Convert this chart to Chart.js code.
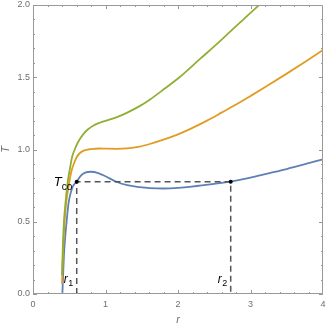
<!DOCTYPE html>
<html>
<head>
<meta charset="utf-8">
<script src="https://cdn.jsdelivr.net/npm/chart.js@4"></script>
<style>
html,body{margin:0;padding:0;background:#fff;}
#wrap{width:327px;height:327px;}
</style>
</head>
<body>
<div id="wrap"><canvas id="c" width="327" height="327"></canvas></div>
<script>
// ---- data ----
const blueR  = [0.405,0.415,0.428,0.445,0.465,0.49,0.52,0.55,0.60,0.667,0.72,0.80,0.90,1.00,1.15,1.30,1.47,1.61,1.80,2.00,2.16,2.30,2.50,2.72,2.85,3.00,3.22,3.50,3.75,4.00];
const blueT  = [0.00,0.13,0.28,0.40,0.51,0.628,0.70,0.745,0.777,0.823,0.840,0.846,0.837,0.815,0.777,0.753,0.740,0.733,0.730,0.734,0.742,0.750,0.762,0.777,0.790,0.806,0.832,0.865,0.898,0.932];

const orangeR = [0.400,0.415,0.437,0.46,0.49,0.53,0.566,0.60,0.644,0.70,0.76,0.85,0.92,1.00,1.15,1.30,1.47,1.61,1.80,2.00,2.20,2.40,2.60,2.85,3.00,3.22,3.50,3.75,4.00];
const orangeT = [0.07,0.30,0.51,0.64,0.743,0.85,0.905,0.945,0.974,0.992,1.000,1.005,1.007,1.006,1.005,1.008,1.020,1.038,1.068,1.105,1.150,1.200,1.255,1.325,1.370,1.437,1.525,1.606,1.689];

const greenR = [0.400,0.412,0.428,0.45,0.48,0.51,0.54,0.58,0.62,0.70,0.76,0.83,0.92,1.00,1.15,1.30,1.47,1.61,1.80,2.02,2.30,2.58,2.76,3.00,3.14,3.25];
const greenT = [0.13,0.33,0.51,0.64,0.78,0.87,0.95,1.005,1.05,1.11,1.14,1.165,1.185,1.198,1.222,1.255,1.300,1.345,1.415,1.50,1.625,1.75,1.835,1.945,2.01,2.06];

const r1 = 0.603, r2 = 2.727, Tco = 0.776;
const xTicks = [0,1,2,3,4];
const yTicks = [0,0.5,1,1.5,2];
const xTickLabels = ["0","1","2","3","4"];
const yTickLabels = ["0.0","0.5","1.0","1.5","2.0"];

const toPts = (xs, ys) => xs.map((x,i)=>({x:x, y:ys[i]}));

const BLUE = '#5E81B5', ORANGE = '#E19C24', GREEN = '#8FB032';
const GRAY = '#999999', LABEL = '#6e6e6e';

const framePlugin = {
  id: 'frame',
  afterDatasetsDraw(chart) {
    const {ctx, chartArea: a, scales: {x, y}} = chart;
    ctx.save();
    ctx.strokeStyle = GRAY;
    ctx.lineWidth = 1;
    ctx.beginPath();
    ctx.rect(Math.round(a.left)+0.5, Math.round(a.top)+0.5, Math.round(a.right-a.left)-1, Math.round(a.bottom-a.top)-1);
    ctx.stroke();
    // inward ticks
    ctx.beginPath();
    for (let i = 0; i < xTicks.length - 1; i++) {
      for (let k = 0; k < 5; k++) {
        const v = xTicks[i] + k * (xTicks[i+1]-xTicks[i]) / 5;
        const px = Math.round(x.getPixelForValue(v)) + 0.5;
        const len = k === 0 ? 4 : 2;
        ctx.moveTo(px, a.bottom); ctx.lineTo(px, a.bottom - len);
        ctx.moveTo(px, a.top); ctx.lineTo(px, a.top + len);
      }
    }
    for (let i = 0; i < yTicks.length - 1; i++) {
      for (let k = 0; k < 5; k++) {
        const v = yTicks[i] + k * (yTicks[i+1]-yTicks[i]) / 5;
        const py = Math.round(y.getPixelForValue(v)) + 0.5;
        const len = k === 0 ? 4 : 2;
        ctx.moveTo(a.left, py); ctx.lineTo(a.left + len, py);
        ctx.moveTo(a.right, py); ctx.lineTo(a.right - len, py);
      }
    }
    ctx.stroke();
    ctx.restore();
  },
  afterDraw(chart) {
    const {ctx, chartArea: a, scales: {x, y}} = chart;
    ctx.save();
    // axis titles
    ctx.fillStyle = LABEL;
    ctx.font = 'italic 11px "Liberation Sans", Arial, sans-serif';
    ctx.textAlign = 'center';
    ctx.textBaseline = 'middle';
    ctx.fillText('r', (a.left + a.right) / 2, 320);
    ctx.translate(6, (a.top + a.bottom) / 2);
    ctx.rotate(-Math.PI / 2);
    ctx.fillText('T', 0, 0);
    ctx.restore();

    ctx.save();
    ctx.fillStyle = '#000';
    const px1 = x.getPixelForValue(r1), px2 = x.getPixelForValue(r2);
    const pyT = y.getPixelForValue(Tco), py0 = y.getPixelForValue(0);
    // T_co
    ctx.textBaseline = 'alphabetic';
    ctx.textAlign = 'left';
    ctx.font = 'italic 13px "Liberation Sans", Arial, sans-serif';
    ctx.fillText('T', px1 - 23, pyT + 4);
    ctx.font = '10px "Liberation Sans", Arial, sans-serif';
    ctx.fillText('co', px1 - 15, pyT + 8);
    // r1, r2
    [[px1,'1'],[px2,'2']].forEach(([p,s]) => {
      ctx.font = 'italic 12px "Liberation Sans", Arial, sans-serif';
      ctx.fillText('r', p - 13, py0 - 11);
      ctx.font = '9px "Liberation Sans", Arial, sans-serif';
      ctx.fillText(s, p - 8.5, py0 - 8);
    });
    ctx.restore();
  }
};

new Chart(document.getElementById('c'), {
  type: 'scatter',
  data: {
    datasets: [
      { data: [{x:r1,y:0},{x:r1,y:Tco},{x:r2,y:Tco},{x:r2,y:0}], showLine: true, borderColor: '#555', borderWidth: 1.5, borderDash: [6,4], pointRadius: 0, tension: 0, order: 1 },
      { data: toPts(blueR, blueT), showLine: true, borderColor: BLUE, borderWidth: 1.8, pointRadius: 0, cubicInterpolationMode: 'monotone', order: 4 },
      { data: toPts(orangeR, orangeT), showLine: true, borderColor: ORANGE, borderWidth: 1.8, pointRadius: 0, cubicInterpolationMode: 'monotone', order: 3 },
      { data: toPts(greenR, greenT), showLine: true, borderColor: GREEN, borderWidth: 1.8, pointRadius: 0, cubicInterpolationMode: 'monotone', order: 2 },
      { data: [{x:r1,y:Tco},{x:r2,y:Tco}], showLine: false, pointRadius: 2, pointBackgroundColor: '#000', pointBorderColor: '#000', pointBorderWidth: 0, order: 0 }
    ]
  },
  options: {
    responsive: false,
    animation: false,
    devicePixelRatio: 1,
    layout: { padding: { top: 5, right: 4, left: 0, bottom: 0 } },
    plugins: { legend: { display: false }, tooltip: { enabled: false } },
    scales: {
      x: {
        type: 'linear', min: 0, max: 4,
        grid: { display: false, drawTicks: false },
        border: { display: false },
        afterBuildTicks(s) { s.ticks = xTicks.map(v => ({value: v})); },
        afterFit(s) { s.height = 33; s.paddingLeft = 0; s.paddingRight = 0; },
        ticks: { padding: 5, color: LABEL, font: { size: 9, family: '"Liberation Sans", Arial, sans-serif' },
                 callback: (v) => xTickLabels[xTicks.indexOf(v)] ?? '' , maxRotation: 0 }
      },
      y: {
        type: 'linear', min: 0, max: 2,
        grid: { display: false, drawTicks: false },
        border: { display: false },
        afterBuildTicks(s) { s.ticks = yTicks.map(v => ({value: v})); },
        afterFit(s) { s.width = 33; s.paddingTop = 0; s.paddingBottom = 0; },
        ticks: { padding: 3, color: LABEL, font: { size: 9, family: '"Liberation Sans", Arial, sans-serif' },
                 callback: (v) => yTickLabels[yTicks.indexOf(v)] ?? '' }
      }
    }
  },
  plugins: [framePlugin]
});
</script>
</body>
</html>
